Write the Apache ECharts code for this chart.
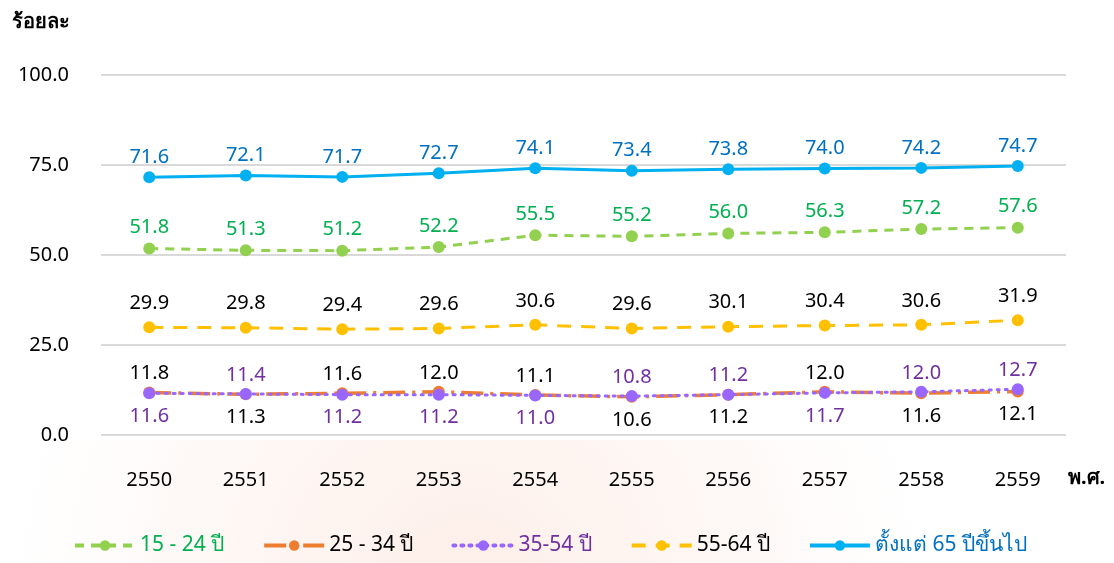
<!DOCTYPE html>
<html>
<head>
<meta charset="utf-8">
<script src="https://cdn.jsdelivr.net/npm/echarts@6/dist/echarts.min.js"></script>
<style>
  html, body { margin: 0; padding: 0; background: #fff; }
  #chart { width: 1114px; height: 563px; }
</style>
</head>
<body>
<div id="chart"></div>
<script>
// ข้อมูล
var years = ['2550', '2551', '2552', '2553', '2554', '2555', '2556', '2557', '2558', '2559'];
var age15to24 = [51.8, 51.3, 51.2, 52.2, 55.5, 55.2, 56.0, 56.3, 57.2, 57.6];
var age25to34 = [11.8, 11.3, 11.6, 12.0, 11.1, 10.6, 11.2, 12.0, 11.6, 12.1];
var age35to54 = [11.6, 11.4, 11.2, 11.2, 11.0, 10.8, 11.2, 11.7, 12.0, 12.7];
var age55to64 = [29.9, 29.8, 29.4, 29.6, 30.6, 29.6, 30.1, 30.4, 30.6, 31.9];
var age65up = [71.6, 72.1, 71.7, 72.7, 74.1, 73.4, 73.8, 74.0, 74.2, 74.7];
var yTicks = [0, 25, 50, 75, 100];

var seriesNames = ['15 - 24 ปี', '25 - 34 ปี', '35-54 ปี', '55-64 ปี', 'ตั้งแต่ 65 ปีขึ้นไป'];

var font = 'Tahoma, "Noto Sans", "DejaVu Sans", sans-serif';

// 25-34 กับ 35-54 ทับกัน: ป้ายอยู่บนหรือล่างตามค่าที่มากกว่า
function withPos(values, other, mine) {
    return values.map(function (v, i) {
        var up = v > other[i] || (v === other[i] && mine === 'purple');
        return {value: v, label: up ? {position: 'top', distance: 3} : {position: 'bottom', distance: 7}};
    });
}

var chart = echarts.init(document.getElementById('chart'));

function lbl(color, dist) {
    return {
        show: true,
        position: 'top',
        distance: dist,
        color: color,
        fontSize: 20,
        fontFamily: font,
        formatter: function (p) { return p.value.toFixed(1); }
    };
}

chart.setOption({
    backgroundColor: '#fff',
    animation: false,
    textStyle: {fontFamily: font},
    graphic: [
        {
            type: 'rect',
            z: -10,
            silent: true,
            shape: {x: 0, y: 440, width: 1114, height: 123},
            style: {
                fill: {
                    type: 'radial', x: 0.42, y: 1.2, r: 4.2,
                    colorStops: [
                        {offset: 0, color: 'rgba(245,170,140,0.20)'},
                        {offset: 0.6, color: 'rgba(248,200,180,0.10)'},
                        {offset: 1, color: 'rgba(255,255,255,0)'}
                    ]
                }
            }
        },
        {
            type: 'text', left: 12, top: 12,
            style: {text: 'ร้อยละ', fill: '#000', font: 'bold 20px ' + font}
        },
        {
            type: 'text', left: 1068, top: 468,
            style: {text: 'พ.ศ.', fill: '#000', font: 'bold 20px ' + font}
        }
    ],
    grid: {left: 101, right: 48, top: 75, bottom: 128},
    legend: {
        bottom: 2,
        left: 68,
        itemWidth: 60,
        itemHeight: 13,
        itemGap: 38,
        textStyle: {fontSize: 21, fontFamily: font},
        lineStyle: {width: 4},
        data: [
            {name: seriesNames[0], textStyle: {color: '#00B050'}},
            {name: seriesNames[1], textStyle: {color: '#000'}},
            {name: seriesNames[2], textStyle: {color: '#7030A0'}},
            {name: seriesNames[3], textStyle: {color: '#000'}},
            {name: seriesNames[4], textStyle: {color: '#0070C0'}}
        ]
    },
    xAxis: {
        type: 'category',
        data: years,
        boundaryGap: true,
        axisLine: {show: false},
        axisTick: {show: false},
        axisLabel: {color: '#000', fontSize: 20, margin: 35, fontFamily: font}
    },
    yAxis: {
        type: 'value',
        min: yTicks[0],
        max: yTicks[yTicks.length - 1],
        interval: 25,
        axisLine: {show: false},
        axisTick: {show: false},
        splitLine: {lineStyle: {color: '#d9d9d9', width: 2}},
        axisLabel: {
            color: '#000', fontSize: 20, margin: 32, fontFamily: font,
            formatter: function (v) { return v.toFixed(1); }
        }
    },
    series: [
        {
            name: seriesNames[0],
            type: 'line',
            data: age15to24,
            symbol: 'circle',
            symbolSize: 12,
            itemStyle: {color: '#92D050'},
            lineStyle: {color: '#92D050', width: 3, type: [9, 7]},
            label: lbl('#00B050', 5),
            z: 3
        },
        {
            name: seriesNames[1],
            type: 'line',
            data: withPos(age25to34, age35to54, 'orange'),
            symbol: 'circle',
            symbolSize: 12,
            itemStyle: {color: '#ED7D31'},
            lineStyle: {color: '#ED7D31', width: 3.5, type: [22, 7, 3, 7]},
            label: lbl('#000', 4),
            z: 3
        },
        {
            name: seriesNames[2],
            type: 'line',
            data: withPos(age35to54, age25to34, 'purple'),
            symbol: 'circle',
            symbolSize: 12,
            itemStyle: {color: '#9966FF'},
            lineStyle: {color: '#9966FF', width: 3, type: [2, 6], cap: 'round'},
            label: lbl('#7030A0', 4),
            z: 4
        },
        {
            name: seriesNames[3],
            type: 'line',
            data: age55to64,
            symbol: 'circle',
            symbolSize: 12,
            itemStyle: {color: '#FFC000'},
            lineStyle: {color: '#FFC000', width: 3, type: [14, 10]},
            label: lbl('#000', 8),
            z: 3
        },
        {
            name: seriesNames[4],
            type: 'line',
            data: age65up,
            symbol: 'circle',
            symbolSize: 12,
            itemStyle: {color: '#00B0F0'},
            lineStyle: {color: '#00B0F0', width: 3},
            label: lbl('#0070C0', 4),
            z: 3
        }
    ]
});
</script>
</body>
</html>
